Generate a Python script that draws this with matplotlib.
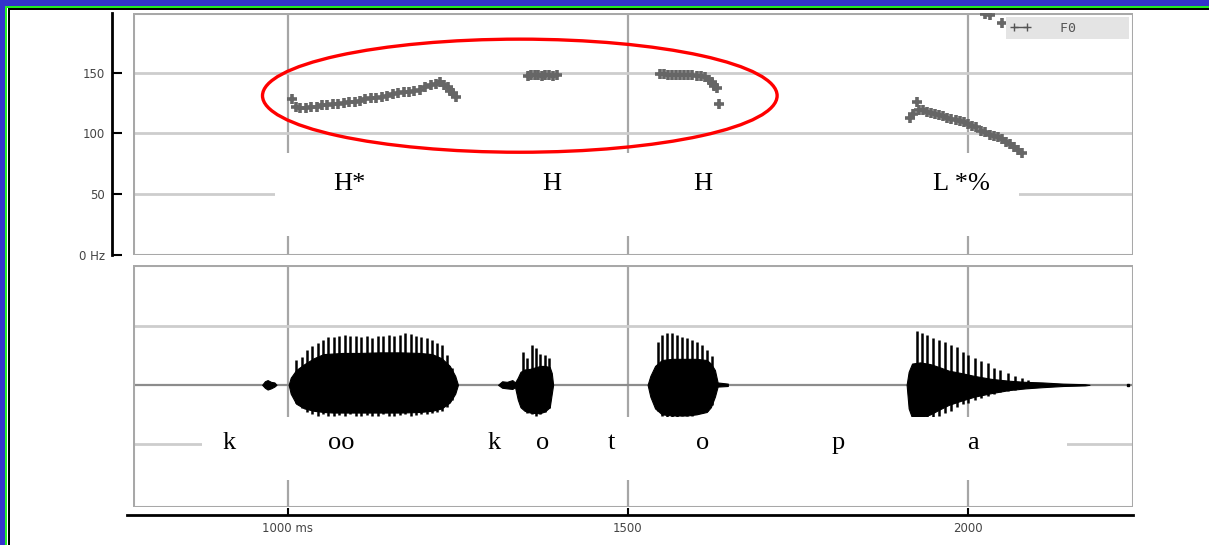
import numpy as np
import matplotlib.pyplot as plt
from matplotlib.patches import Ellipse, Rectangle
from matplotlib.lines import Line2D

plt.rcParams['font.family'] = 'DejaVu Sans'

# F0 track (ms, Hz)
f0_time = [1006, 1012, 1018, 1026, 1034, 1042, 1050, 1058, 1066, 1074, 1082, 1090,
           1098, 1106, 1114, 1122, 1130, 1138, 1146, 1154, 1162, 1170, 1178, 1186,
           1194, 1202, 1210, 1218, 1224, 1230, 1235, 1239, 1243, 1247,
           1353, 1358, 1363, 1368, 1373, 1378, 1384, 1390, 1396,
           1547, 1553, 1559, 1565, 1571, 1577, 1583, 1589, 1595, 1601, 1607, 1613,
           1619, 1623, 1627, 1631, 1634,
           1915, 1920, 1925, 1928, 1934, 1940, 1946, 1952, 1958, 1964, 1970, 1976,
           1982, 1988, 1994, 2000, 2006, 2012, 2020, 2026, 2032, 2038, 2044, 2050,
           2056, 2062, 2068, 2074, 2080,
           2026, 2033, 2050]
f0_hz = [128, 122, 121, 121, 122, 122, 123, 123, 124, 124, 125, 126,
         126, 127, 128, 129, 129, 130, 131, 132, 133, 134, 134, 135,
         136, 138, 140, 141, 142, 140, 138, 135, 133, 130,
         147, 148, 148, 148, 147, 148, 148, 147, 148,
         149, 149, 148, 148, 148, 148, 148, 148, 148, 147, 147, 146,
         144, 142, 139, 137, 124,
         113, 116, 126, 119, 119, 118, 117, 116, 115, 114, 113, 112,
         111, 110, 109, 108, 106, 105, 102, 101, 99, 98, 97, 95,
         93, 91, 89, 86, 84,
         198, 197, 191]

# waveform envelopes per segment: time (ms), upper, lower
env_t = [
    [962, 966, 970, 975, 980, 983],
    [1001, 1004, 1012, 1024, 1038, 1052, 1066, 1080, 1106, 1135, 1165, 1194, 1212, 1226, 1238, 1246, 1250],
    [1309, 1315, 1322, 1330, 1334, 1338, 1342, 1348, 1356, 1365, 1371, 1378, 1385, 1388, 1390],
    [1529, 1533, 1540, 1550, 1565, 1587, 1601, 1616, 1622, 1628, 1632, 1647],
    [1910, 1913, 1918, 1930, 1945, 1958, 1972, 1990, 2010, 2035, 2060, 2085, 2110, 2140, 2172, 2179],
]
env_hi = [
    [0.0, 0.06, 0.08, 0.05, 0.04, 0.0],
    [0.0, 0.12, 0.25, 0.35, 0.45, 0.52, 0.53, 0.54, 0.54, 0.55, 0.55, 0.54, 0.52, 0.45, 0.32, 0.15, 0.0],
    [0.0, 0.06, 0.05, 0.08, 0.04, 0.12, 0.22, 0.26, 0.27, 0.30, 0.32, 0.32, 0.30, 0.20, 0.0],
    [0.0, 0.15, 0.32, 0.42, 0.44, 0.44, 0.44, 0.42, 0.36, 0.25, 0.04, 0.02],
    [0.0, 0.22, 0.36, 0.38, 0.35, 0.30, 0.24, 0.20, 0.15, 0.10, 0.07, 0.05, 0.04, 0.02, 0.01, 0.0],
]
env_lo = [
    [0.0, -0.05, -0.08, -0.06, -0.03, 0.0],
    [0.0, -0.15, -0.32, -0.40, -0.44, -0.46, -0.47, -0.47, -0.47, -0.47, -0.47, -0.46, -0.44, -0.40, -0.30, -0.15, 0.0],
    [0.0, -0.05, -0.06, -0.07, -0.04, -0.25, -0.38, -0.44, -0.47, -0.48, -0.48, -0.45, -0.38, -0.15, 0.0],
    [0.0, -0.20, -0.40, -0.50, -0.52, -0.52, -0.50, -0.46, -0.38, -0.20, -0.03, -0.02],
    [0.0, -0.40, -0.56, -0.56, -0.50, -0.42, -0.34, -0.27, -0.20, -0.14, -0.09, -0.06, -0.04, -0.02, -0.01, 0.0],
]

# glottal pulses (ms, peak, trough)
pulse_t = [1012, 1021, 1028, 1035, 1044, 1051, 1059, 1068, 1075, 1084, 1091, 1100,
           1107, 1116, 1124, 1132, 1140, 1149, 1156, 1165, 1172, 1181, 1188, 1196,
           1204, 1212, 1219, 1226, 1234, 1241,
           1346, 1351, 1359, 1365, 1371, 1378, 1384,
           1544, 1550, 1557, 1565, 1572, 1579, 1587, 1594, 1601, 1609, 1616, 1624,
           1925, 1932, 1940, 1949, 1957, 1966, 1975, 1984, 1993, 2001, 2010, 2019,
           2029, 2038, 2047, 2059, 2069, 2079, 2088]
pulse_hi = [0.42, 0.47, 0.59, 0.66, 0.71, 0.76, 0.81, 0.81, 0.83, 0.85, 0.83, 0.83,
            0.81, 0.83, 0.80, 0.83, 0.83, 0.85, 0.83, 0.85, 0.88, 0.86, 0.83, 0.81,
            0.80, 0.76, 0.71, 0.68, 0.51, 0.29,
            0.55, 0.45, 0.68, 0.62, 0.52, 0.50, 0.45,
            0.73, 0.85, 0.88, 0.88, 0.85, 0.81, 0.80, 0.76, 0.73, 0.68, 0.59, 0.49,
            0.92, 0.88, 0.85, 0.80, 0.76, 0.73, 0.68, 0.64, 0.56, 0.51, 0.46, 0.41,
            0.37, 0.29, 0.25, 0.20, 0.15, 0.12, 0.08]
pulse_lo = [-0.30, -0.40, -0.46, -0.50, -0.52, -0.50, -0.52, -0.53, -0.51, -0.52, -0.50, -0.53,
            -0.52, -0.51, -0.53, -0.52, -0.50, -0.52, -0.53, -0.51, -0.50, -0.52, -0.51, -0.50,
            -0.50, -0.48, -0.46, -0.44, -0.38, -0.25,
            -0.40, -0.48, -0.50, -0.52, -0.50, -0.46, -0.40,
            -0.45, -0.52, -0.54, -0.54, -0.54, -0.52, -0.53, -0.52, -0.50, -0.48, -0.45, -0.35,
            -0.58, -0.58, -0.58, -0.56, -0.52, -0.48, -0.44, -0.38, -0.33, -0.30, -0.26, -0.22,
            -0.19, -0.16, -0.13, -0.10, -0.08, -0.06, -0.05]

tones = ['H*', 'H', 'H', 'L *%']
tone_x = [1091, 1388, 1610, 1991]
phones = ['k', 'oo', 'k', 'o', 't', 'o', 'p', 'a']
phone_x = [913, 1079, 1303, 1374, 1475, 1610, 1809, 2007]

time_ticks = [1000, 1500, 2000]
time_labels = ['1000 ms', '1500', '2000']
hz_ticks = [0, 50, 100, 150]
hz_labels = ['0 Hz', '50', '100', '150']

W, H = 1209, 545
fig = plt.figure(figsize=(W / 100, H / 100), dpi=100)
fig.patch.set_facecolor('white')

# slide border: blue, green, black along top and left
for (x0, y0, w, h, c) in [(0, H - 6, W, 6, '#3333cc'), (0, 0, 5, H, '#3333cc'),
                          (5, H - 8, W, 2, '#22ee22'), (5, 0, 2, H - 6, '#22ee22'),
                          (8, H - 10, W, 2, 'black'), (8, 0, 2, H - 8, 'black')]:
    fig.add_artist(Rectangle((x0 / W, y0 / H), w / W, h / H, transform=fig.transFigure,
                             color=c, lw=0))

xlim = (772, 2243)
ax1 = fig.add_axes([133 / W, (H - 255) / H, 1000 / W, 242 / H])
ax2 = fig.add_axes([133 / W, (H - 507) / H, 1000 / W, 242 / H])

grid_h = '#cdcdcd'
grid_v = '#a6a6a6'
for ax in (ax1, ax2):
    ax.set_xlim(*xlim)
    for s in ax.spines.values():
        s.set_visible(False)
    ax.add_patch(Rectangle((0, 0), 1, 1, transform=ax.transAxes, fill=False,
                           ec='#a8a8a8', lw=2.2, zorder=0.6))
    for t in time_ticks:
        ax.axvline(t, color=grid_v, lw=1.6, zorder=0.5)

# --- F0 panel ---
ax1.set_ylim(0, 199)
for v in hz_ticks[1:]:
    ax1.axhline(v, color=grid_h, lw=2, zorder=0.5)
ax1.spines['left'].set_visible(True)
ax1.spines['left'].set_position(('outward', 15))
ax1.spines['left'].set_linewidth(2)
ax1.set_yticks(hz_ticks)
ax1.set_yticklabels(hz_labels)
ax1.tick_params(axis='y', direction='in', length=7, width=1.5, pad=5,
                labelsize=8.5, labelcolor='#444444')
ax1.set_xticks([])
ax1.add_patch(Rectangle((981, 16), 1095, 68, color='white', lw=0, zorder=1))
ax1.plot(f0_time, f0_hz, ls='none', marker='+', ms=7.5, mew=2.6, color='#666666', zorder=2)
ax1.add_patch(Ellipse((1341, 131), 757, 93, fill=False, ec='#ff0000', lw=2.4,
                      zorder=4, clip_on=False))
for lab, x in zip(tones, tone_x):
    ax1.text(x, 58, lab, ha='center', va='center', fontsize=19,
             family='Liberation Serif', zorder=3)
leg = ax1.legend(handles=[Line2D([], [], color='#555555', marker='+', ls='-', lw=1)],
                 labels=['F0'], loc='upper right', frameon=True, fancybox=False,
                 facecolor='#e4e4e4', edgecolor='none', framealpha=1, numpoints=2,
                 handlelength=1.6, handletextpad=2.2, borderaxespad=0.3,
                 borderpad=0.35, prop={'family': 'DejaVu Sans Mono', 'size': 9.5})
for t in leg.get_texts():
    t.set_color('#555555')
    t.set_text('F0      ')

# --- waveform panel ---
ax2.set_ylim(-2.07, 2.03)
for v in (-1, 1):
    ax2.axhline(v, color=grid_h, lw=2, zorder=0.5)
ax2.axhline(0, color='#8c8c8c', lw=1.6, zorder=0.5)
for t, hi, lo in zip(env_t, env_hi, env_lo):
    ax2.fill_between(t, lo, hi, color='black', lw=0.8, zorder=1.5)
ax2.vlines(pulse_t, pulse_lo, pulse_hi, color='black', lw=1.8, zorder=1.5)
ax2.plot([2235], [0], ls='none', marker='s', ms=1.5, color='black', zorder=1.5)
ax2.add_patch(Rectangle((874, -1.61), 1272, 1.07, color='white', lw=0, zorder=2))
for lab, x in zip(phones, phone_x):
    ax2.text(x, -0.98, lab, ha='center', va='center', fontsize=19,
             family='Liberation Serif', zorder=3)
ax2.set_yticks([])
ax2.spines['bottom'].set_visible(True)
ax2.spines['bottom'].set_position(('outward', 6))
ax2.spines['bottom'].set_linewidth(2)
ax2.spines['bottom'].set_bounds(763, xlim[1])
ax2.set_xticks(time_ticks)
ax2.set_xticklabels(time_labels)
ax2.tick_params(axis='x', direction='in', length=5, width=1.5, pad=5,
                labelsize=8.5, labelcolor='#444444')

fig.savefig('out.png', dpi=100)
